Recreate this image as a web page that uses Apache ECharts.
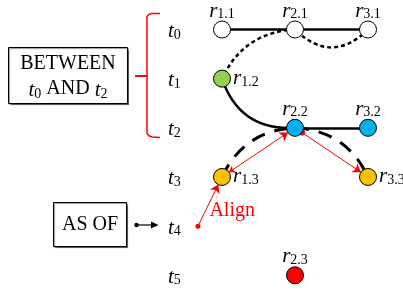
<!DOCTYPE html>
<html>
<head>
<meta charset="utf-8">
<script src="https://cdn.jsdelivr.net/npm/echarts@6/dist/echarts.min.js"></script>
<style>
html, body { margin: 0; padding: 0; background: #fff; }
#main { width: 403px; height: 293px; }
</style>
</head>
<body>
<div id="main"></div>
<script>
// time steps, used as the y axis tick labels (t0 ... t5)
const timeSteps = ['0', '1', '2', '3', '4', '5']
// nodes r_{col.step}: name, column and time step
const nodeNames = ['1.1', '2.1', '3.1', '1.2', '2.2', '3.2', '1.3', '3.3', '2.3']
const nodeCols = [1, 2, 3, 1, 2, 3, 1, 3, 2]
const nodeSteps = [0, 0, 0, 1, 2, 2, 3, 3, 5]
// the "as of" pointer sitting on t4
const alignPoint = [0.67, 4]
// edges
const edgeSource = ['1.1', '2.1', '3.1', '2.1', '1.2', '2.2', '1.3', '2.2', '1.3', '2.2', 'align']
const edgeTarget = ['2.1', '3.1', '2.1', '1.2', '2.2', '3.2', '2.2', '3.3', '2.2', '3.3', '1.3']

const serif = '"Liberation Serif", "DejaVu Serif", serif'
const fills = ['#fff', '#fff', '#fff', '#92D050', '#00B0F0', '#00B0F0', '#FFC000', '#FFC000', '#FF0000']
const labelPos = ['top', 'top', 'top', 'right', 'top', 'top', 'right', 'right', 'top']
const subRich = {
  r: { fontFamily: serif, fontStyle: 'italic', fontSize: 21, color: '#000', verticalAlign: 'bottom' },
  s: { fontFamily: serif, fontSize: 14, color: '#000', verticalAlign: 'bottom' }
}

const black = '#000'
const red = '#FF0000'
// one style per edge, same order as edgeSource / edgeTarget
const edgeStyles = [
  { color: black, width: 2.5, type: 'solid', curveness: 0 },
  { color: black, width: 2.5, type: 'solid', curveness: 0 },
  { color: black, width: 2.5, type: [4, 3], curveness: 0.49 },
  { color: black, width: 2.5, type: [4, 3], curveness: -0.3 },
  { color: black, width: 2.5, type: 'solid', curveness: -0.38 },
  { color: black, width: 2.5, type: 'solid', curveness: 0 },
  { color: black, width: 3, type: [14, 10], curveness: 0.3 },
  { color: black, width: 3, type: [14, 10], curveness: 0.3 },
  { color: red, width: 1, type: 'solid', curveness: 0 },
  { color: red, width: 1, type: 'solid', curveness: 0 },
  { color: red, width: 1, type: 'solid', curveness: 0 }
]
const edgeSymbols = [
  ['none', 'none'], ['none', 'none'], ['none', 'none'], ['none', 'none'],
  ['none', 'none'], ['none', 'none'], ['none', 'none'], ['none', 'none'],
  ['arrow', 'arrow'], ['circle', 'arrow'], ['none', 'arrow']
]

const nodes = nodeNames.map(function (name, i) {
  return {
    name: name,
    value: [nodeCols[i], nodeSteps[i]],
    symbolSize: 17,
    itemStyle: { color: fills[i], borderColor: black, borderWidth: 1 },
    label: {
      show: true,
      position: labelPos[i],
      distance: labelPos[i] === 'top' ? -1 : 2,
      formatter: '{r|r}{s|' + name + '}',
      rich: subRich
    }
  }
})
nodes.push({
  name: 'align',
  value: alignPoint,
  symbolSize: 5,
  itemStyle: { color: red },
  label: {
    show: true,
    position: 'right',
    offset: [4, -15],
    formatter: 'Align',
    fontFamily: serif,
    fontSize: 20,
    color: red
  }
})

const links = edgeSource.map(function (s, i) {
  return {
    source: s,
    target: edgeTarget[i],
    symbol: edgeSymbols[i],
    symbolSize: [6, 8],
    lineStyle: Object.assign({ opacity: 1 }, edgeStyles[i])
  }
})

const chart = echarts.init(document.getElementById('main'))
chart.setOption({
  animation: false,
  grid: { left: 192.8, right: 5.8, top: 29.5, bottom: 17.7 },
  xAxis: { type: 'value', min: 0.6, max: 3.4, show: false },
  yAxis: {
    type: 'value',
    inverse: true,
    min: 0,
    max: 5,
    interval: 1,
    axisLine: { show: false },
    axisTick: { show: false },
    splitLine: { show: false },
    axisLabel: {
      margin: 12,
      formatter: function (v) { return '{r|t}{s|' + timeSteps[v] + '}' },
      rich: {
        r: { fontFamily: serif, fontStyle: 'italic', fontSize: 21, color: '#000', verticalAlign: 'bottom', padding: [4, 0, 0, 0] },
        s: { fontFamily: serif, fontSize: 14, color: '#000', verticalAlign: 'bottom', padding: [4, 0, 0, 0] }
      }
    }
  },
  graphic: [
    {
      type: 'rect',
      shape: { x: 8.5, y: 47.5, width: 119, height: 56 },
      style: { fill: '#fff', stroke: black, lineWidth: 1, shadowColor: 'rgba(0,0,0,0.45)', shadowOffsetX: 1, shadowOffsetY: 1, shadowBlur: 1 }
    },
    {
      type: 'text',
      x: 68, y: 76,
      style: {
        text: 'BETWEEN\n{r|t}{s|0} AND {r|t}{s|2}',
        fontFamily: serif, fontSize: 20, fill: black,
        align: 'center', verticalAlign: 'middle', lineHeight: 25,
        rich: subRich
      }
    },
    {
      type: 'rect',
      shape: { x: 53.5, y: 202.5, width: 73, height: 44 },
      style: { fill: '#fff', stroke: black, lineWidth: 1, shadowColor: 'rgba(0,0,0,0.45)', shadowOffsetX: 1, shadowOffsetY: 1, shadowBlur: 1 }
    },
    {
      type: 'text',
      x: 90, y: 225,
      style: { text: 'AS OF', fontFamily: serif, fontSize: 20, fill: black, align: 'center', verticalAlign: 'middle' }
    },
    { type: 'circle', shape: { cx: 136.5, cy: 225, r: 2.2 }, style: { fill: black } },
    { type: 'line', shape: { x1: 136.5, y1: 225, x2: 152, y2: 225 }, style: { stroke: black, lineWidth: 1.2 } },
    { type: 'polygon', shape: { points: [[158.5, 225], [151, 221.5], [151, 228.5]] }, style: { fill: black } },
    {
      type: 'polyline',
      shape: { points: [[160, 13.5], [152, 13.6], [149, 14.4], [147, 16.5], [147, 133.5], [149, 135.8], [152, 136.9], [160, 137.5]] },
      style: { fill: 'none', stroke: red, lineWidth: 1.5 }
    },
    { type: 'line', shape: { x1: 135, y1: 76, x2: 147, y2: 76 }, style: { stroke: red, lineWidth: 2 } }
  ],
  series: [{
    type: 'graph',
    coordinateSystem: 'cartesian2d',
    data: nodes,
    links: links,
    emphasis: { disabled: true }
  }]
})
</script>
</body>
</html>
